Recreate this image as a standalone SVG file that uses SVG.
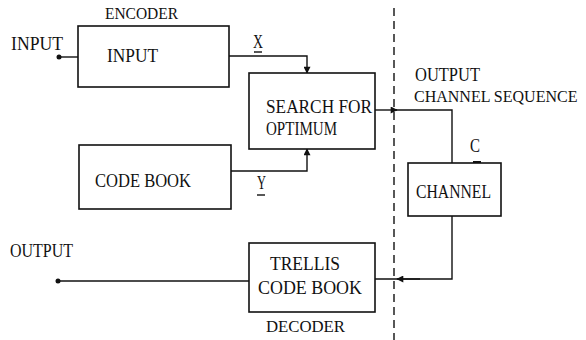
<svg xmlns="http://www.w3.org/2000/svg" width="586" height="340" viewBox="0 0 586 340">
<defs>
<style>
text{font-family:"Liberation Serif","DejaVu Serif",serif;fill:#111;}
.t{font-size:19px;}
.s{font-size:16px;}
.box{fill:#fff;stroke:#111;stroke-width:1.6;}
.ln{fill:none;stroke:#111;stroke-width:1.4;}
.dash{fill:none;stroke:#111;stroke-width:1.4;stroke-dasharray:8 5;}
</style>
<marker id="ah" viewBox="0 0 10 10" refX="9" refY="5" markerWidth="8" markerHeight="7" markerUnits="userSpaceOnUse" orient="auto">
<path d="M0,0 L10,5 L0,10 Z" fill="#111"/>
</marker>
</defs>
<rect width="586" height="340" fill="#fff"/>
<g id="connectors">
<line class="dash" x1="394" y1="8" x2="394" y2="340"/>
<circle cx="59" cy="57" r="2.5" fill="#111"/>
<line class="ln" x1="59" y1="57" x2="78" y2="57"/>
<polyline class="ln" points="229,56 307,56 307,73" marker-end="url(#ah)"/>
<polyline class="ln" points="231,171 307,171 307,149" marker-end="url(#ah)"/>
<line class="ln" x1="375" y1="110" x2="397" y2="110" marker-end="url(#ah)"/>
<polyline class="ln" points="396,110 452,110 452,163"/>
<rect x="473" y="161" width="8" height="3" fill="#111"/>
<polyline class="ln" points="452,216 452,279 375,279"/>
<line class="ln" x1="420" y1="279" x2="397" y2="279" marker-end="url(#ah)"/>
<line class="ln" x1="249" y1="281" x2="58" y2="281"/>
<circle cx="58" cy="281" r="2.5" fill="#111"/>
<text class="t" x="253" y="48" textLength="10" lengthAdjust="spacingAndGlyphs">X</text>
<line class="ln" x1="254" y1="52" x2="262" y2="52"/>
<text class="t" x="257" y="189" textLength="9" lengthAdjust="spacingAndGlyphs">Y</text>
<line class="ln" x1="257" y1="195" x2="265" y2="195"/>
<text class="t" x="470" y="152" textLength="10" lengthAdjust="spacingAndGlyphs">C</text>
</g>
<g id="labels">
<text class="s" x="105" y="19" textLength="73" lengthAdjust="spacingAndGlyphs">ENCODER</text>
<text class="t" x="11" y="50" textLength="52" lengthAdjust="spacingAndGlyphs">INPUT</text>
<text class="t" x="415" y="81" textLength="65" lengthAdjust="spacingAndGlyphs">OUTPUT</text>
<text class="s" x="414" y="102">CHANNEL SEQUENCE</text>
<text class="t" x="10" y="257" textLength="63" lengthAdjust="spacingAndGlyphs">OUTPUT</text>
<text class="s" x="266" y="332" textLength="79" lengthAdjust="spacingAndGlyphs">DECODER</text>
</g>
<g id="input">
<rect class="box" x="78" y="26" width="151" height="61"/>
<text class="t" x="107" y="62" textLength="51" lengthAdjust="spacingAndGlyphs">INPUT</text>
</g>
<g id="search">
<rect class="box" x="249" y="73" width="126" height="76"/>
<text class="t" x="266" y="113" textLength="106" lengthAdjust="spacingAndGlyphs">SEARCH FOR</text>
<text class="t" x="266" y="135" textLength="71" lengthAdjust="spacingAndGlyphs">OPTIMUM</text>
</g>
<g id="codebook">
<rect class="box" x="79" y="145" width="152" height="64"/>
<text class="t" x="95" y="187" textLength="96" lengthAdjust="spacingAndGlyphs">CODE BOOK</text>
</g>
<g id="channel">
<rect class="box" x="408" y="163" width="93" height="53"/>
<text class="t" x="416" y="198" textLength="75" lengthAdjust="spacingAndGlyphs">CHANNEL</text>
</g>
<g id="trellis">
<rect class="box" x="249" y="243" width="126" height="69"/>
<text class="t" x="270" y="270" textLength="70" lengthAdjust="spacingAndGlyphs">TRELLIS</text>
<text class="t" x="258" y="294" textLength="104" lengthAdjust="spacingAndGlyphs">CODE BOOK</text>
</g>
</svg>
